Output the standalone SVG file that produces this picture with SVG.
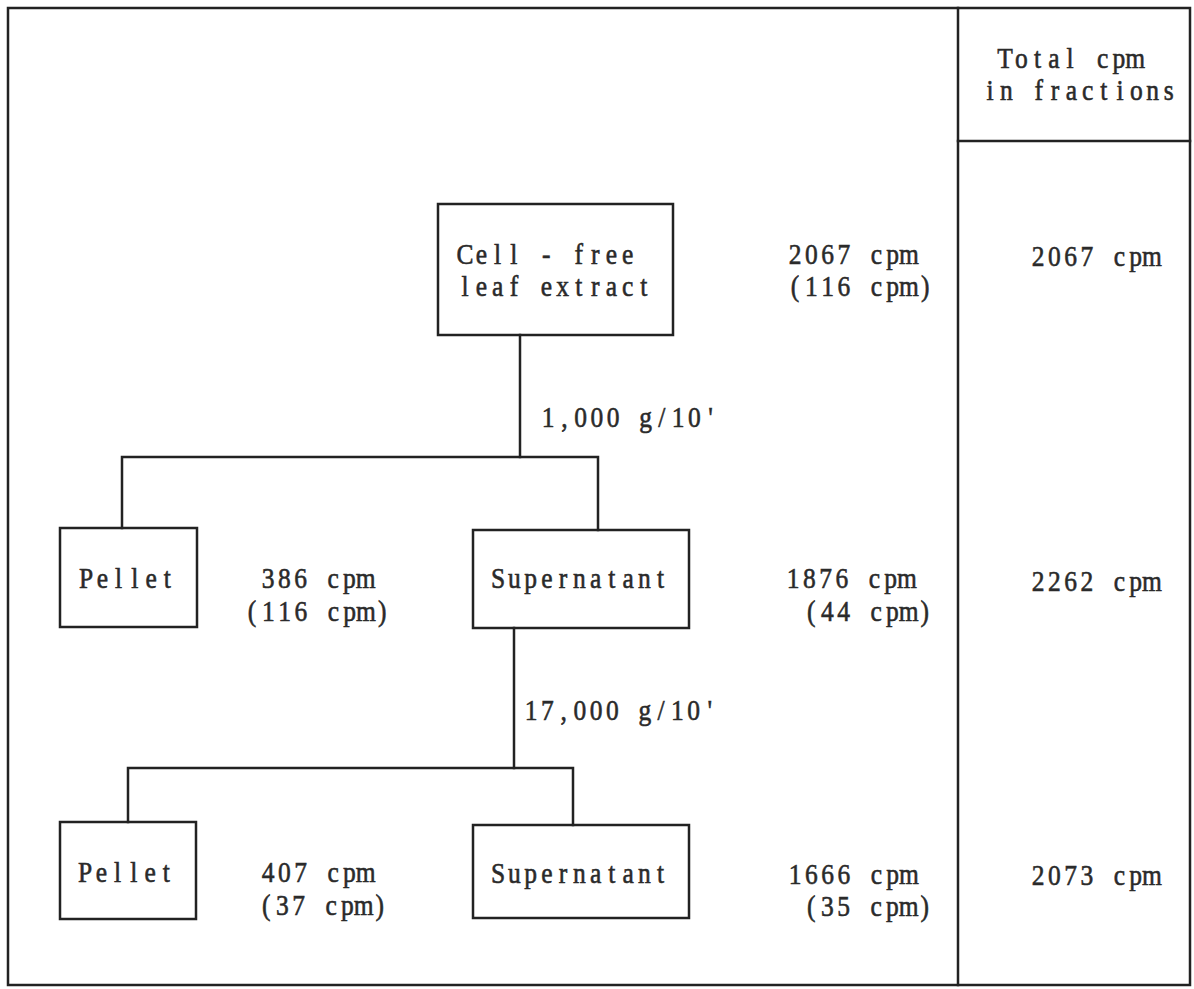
<svg xmlns="http://www.w3.org/2000/svg" width="1194" height="989" viewBox="0 0 1194 989">
<style>
.ln{stroke:#222;stroke-width:2.5;fill:none;stroke-linecap:square}
.bx{stroke:#222;stroke-width:2.5;fill:none}
text{font-family:"Liberation Serif","Times New Roman",serif;font-size:30px;fill:#2a2a2a;stroke:#2a2a2a;stroke-width:0.6;text-anchor:middle}
</style>
<rect width="1194" height="989" fill="#fff"/>
<g id="frame">
<rect class="bx" x="8" y="8" width="1182" height="977"/>
<line class="ln" x1="958" y1="8" x2="958" y2="985"/>
<line class="ln" x1="958" y1="141" x2="1190" y2="141"/>
<text transform="scale(0.85 1)" x="1182.5 1201.6 1220.7 1239.9 1259.0 1278.1 1297.2 1316.3 1335.4" y="68">Total cpm</text>
<text transform="scale(0.85 1)" x="1164.9 1184.0 1203.1 1222.2 1241.3 1260.4 1279.6 1298.7 1317.8 1336.9 1356.0 1375.1" y="100">in fractions</text>
</g>
<g id="connectors">
<polyline class="ln" points="520,335 520,457"/>
<polyline class="ln" points="122,528 122,457 598,457 598,530"/>
<polyline class="ln" points="514,628 514,768"/>
<polyline class="ln" points="128,822 128,768 573,768 573,825"/>
<text transform="scale(0.85 1)" x="644.9 664.0 683.1 702.2 721.3 740.4 759.6 778.7 797.8 816.9 836.0" y="427">1,000 g/10'</text>
<text transform="scale(0.85 1)" x="624.9 644.0 663.1 682.2 701.3 720.4 739.6 758.7 777.8 796.9 816.0 835.1" y="720">17,000 g/10'</text>
</g>
<g id="cellfree">
<rect class="bx" x="438" y="204" width="235" height="131"/>
<text transform="scale(0.85 1)" x="547.2 566.3 585.5 604.6 623.7 642.8 661.9 681.0 700.2 719.3 738.4" y="264">Cell - free</text>
<text transform="scale(0.85 1)" x="547.2 566.3 585.5 604.6 623.7 642.8 661.9 681.0 700.2 719.3 738.4 757.5" y="296">leaf extract</text>
</g>
<g id="cellfree-cpm">
<text transform="scale(0.85 1)" x="935.4 954.6 973.7 992.8 1011.9 1031.0 1050.2 1069.3" y="264">2067 cpm</text>
<text transform="scale(0.85 1)" x="935.4 954.6 973.7 992.8 1011.9 1031.0 1050.2 1069.3 1088.4" y="296">(116 cpm)</text>
</g>
<g id="pellet1">
<rect class="bx" x="60" y="528" width="137" height="99"/>
<text transform="scale(0.85 1)" x="101.3 120.4 139.6 158.7 177.8 196.9" y="588">Pellet</text>
</g>
<g id="pellet1-cpm">
<text transform="scale(0.85 1)" x="315.4 334.6 353.7 372.8 391.9 411.0 430.2" y="588">386 cpm</text>
<text transform="scale(0.85 1)" x="296.6 315.7 334.9 354.0 373.1 392.2 411.3 430.4 449.6" y="621">(116 cpm)</text>
</g>
<g id="supernatant1">
<rect class="bx" x="473" y="530" width="216" height="98"/>
<text transform="scale(0.85 1)" x="586.0 605.1 624.3 643.4 662.5 681.6 700.7 719.8 739.0 758.1 777.2" y="588">Supernatant</text>
</g>
<g id="supernatant1-cpm">
<text transform="scale(0.85 1)" x="933.1 952.2 971.3 990.4 1009.6 1028.7 1047.8 1066.9" y="588">1876 cpm</text>
<text transform="scale(0.85 1)" x="954.3 973.4 992.5 1011.6 1030.7 1049.9 1069.0 1088.1" y="621">(44 cpm)</text>
</g>
<g id="pellet2">
<rect class="bx" x="60" y="822" width="136" height="97"/>
<text transform="scale(0.85 1)" x="100.2 119.3 138.4 157.5 176.6 195.7" y="882">Pellet</text>
</g>
<g id="pellet2-cpm">
<text transform="scale(0.85 1)" x="315.4 334.6 353.7 372.8 391.9 411.0 430.2" y="882">407 cpm</text>
<text transform="scale(0.85 1)" x="313.1 332.2 351.3 370.4 389.6 408.7 427.8 446.9" y="915">(37 cpm)</text>
</g>
<g id="supernatant2">
<rect class="bx" x="473" y="825" width="216" height="93"/>
<text transform="scale(0.85 1)" x="586.0 605.1 624.3 643.4 662.5 681.6 700.7 719.8 739.0 758.1 777.2" y="883">Supernatant</text>
</g>
<g id="supernatant2-cpm">
<text transform="scale(0.85 1)" x="935.4 954.6 973.7 992.8 1011.9 1031.0 1050.2 1069.3" y="884">1666 cpm</text>
<text transform="scale(0.85 1)" x="954.3 973.4 992.5 1011.6 1030.7 1049.9 1069.0 1088.1" y="916">(35 cpm)</text>
</g>
<g id="totals">
<text transform="scale(0.85 1)" x="1221.3 1240.4 1259.5 1278.7 1297.8 1316.9 1336.0 1355.1" y="266">2067 cpm</text>
<text transform="scale(0.85 1)" x="1221.3 1240.4 1259.5 1278.7 1297.8 1316.9 1336.0 1355.1" y="591">2262 cpm</text>
<text transform="scale(0.85 1)" x="1221.3 1240.4 1259.5 1278.7 1297.8 1316.9 1336.0 1355.1" y="885">2073 cpm</text>
</g>
</svg>
